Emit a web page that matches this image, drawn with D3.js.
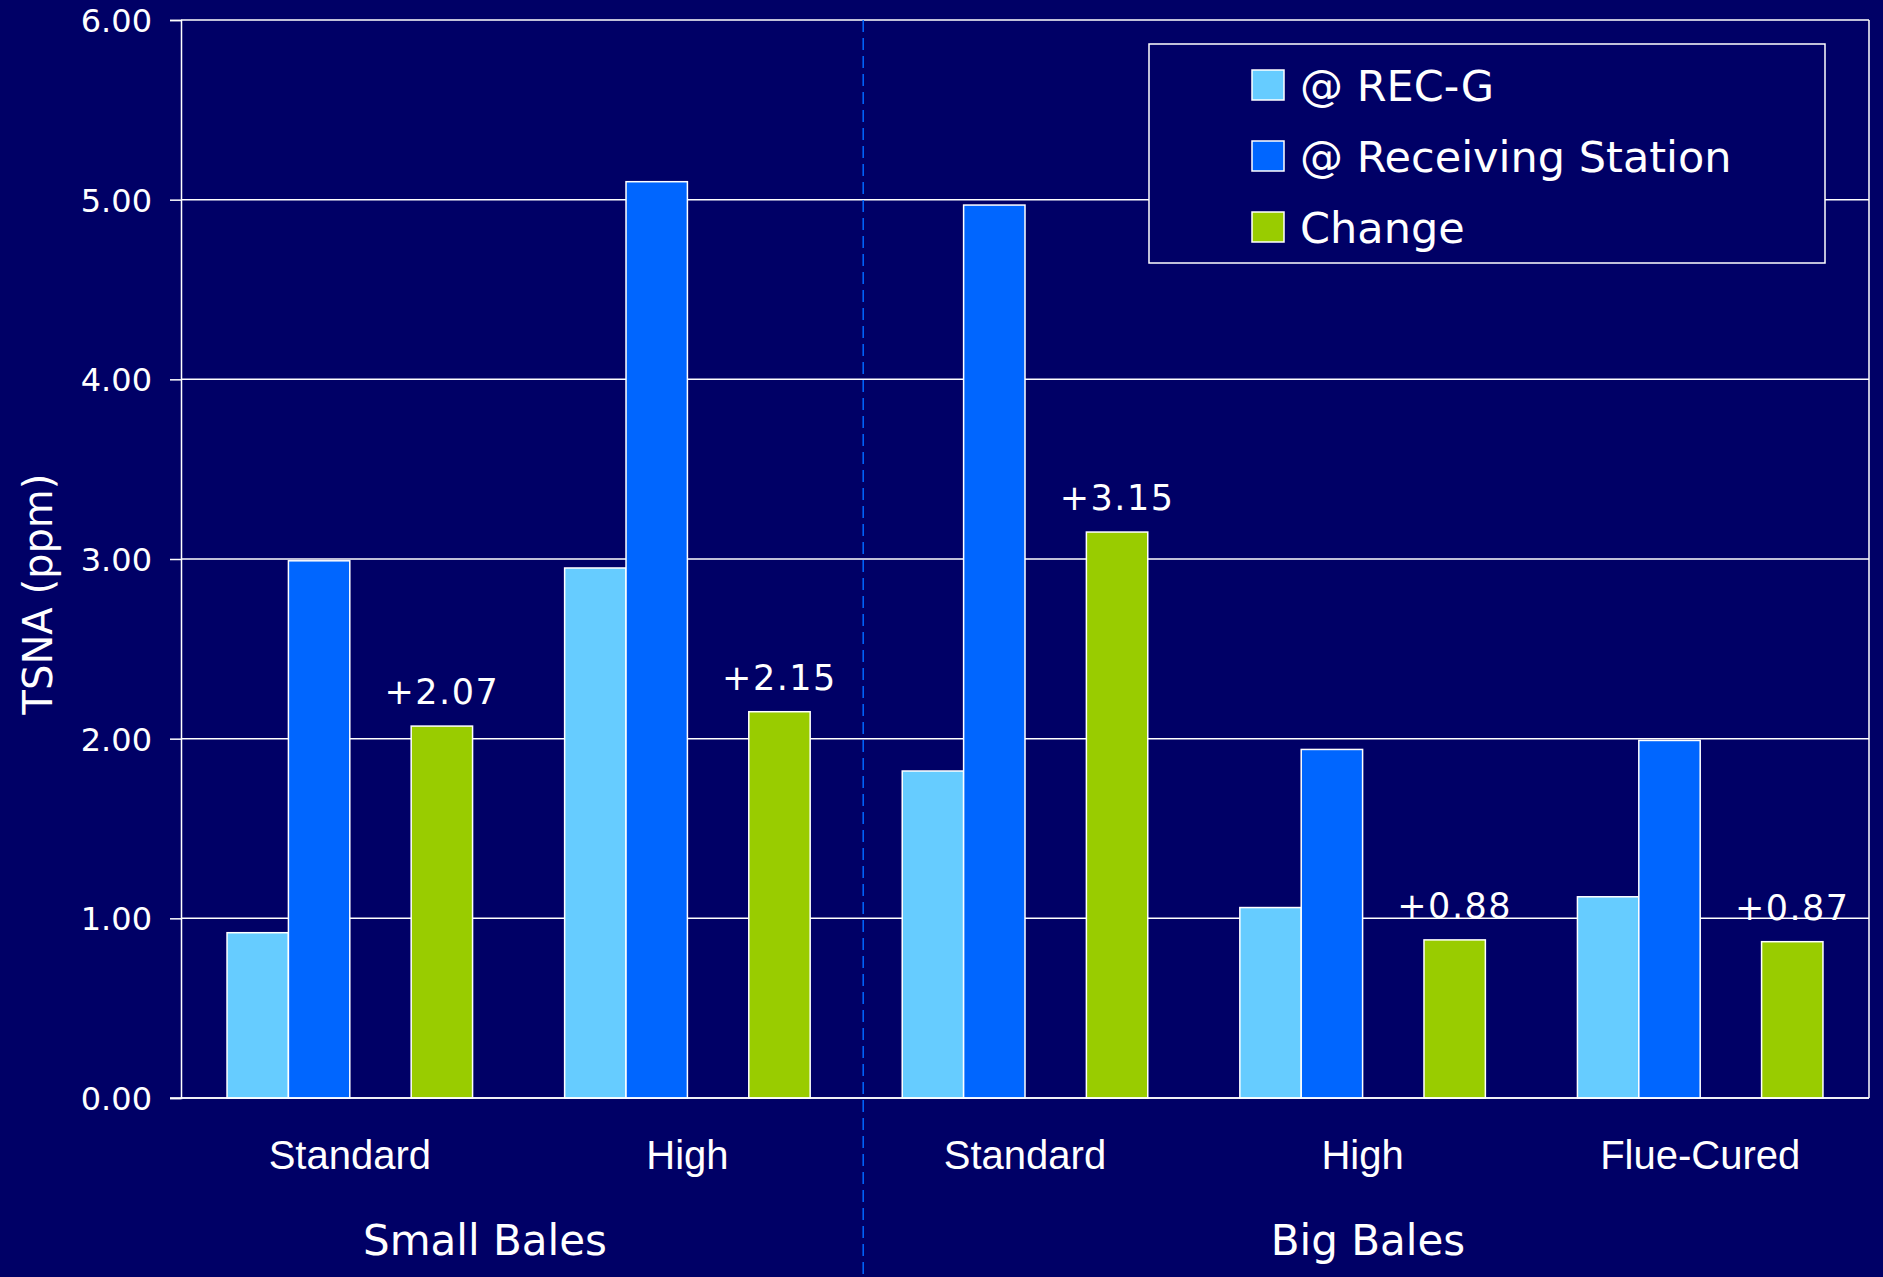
<!DOCTYPE html>
<html>
<head>
<meta charset="utf-8">
<script src="https://cdn.jsdelivr.net/npm/d3@7"></script>
<style>
  html, body { margin: 0; padding: 0; background: #000066; }
  svg { display: block; }
</style>
</head>
<body>
<svg id="chart" width="1883" height="1277"></svg>
<script>
// ---- data ----
const categories = ["Standard", "High", "Standard", "High", "Flue-Cured"];
const groupLabels = ["Small Bales", "Big Bales"];
const seriesNames = ["@ REC-G", "@ Receiving Station", "Change"];
const recG = [0.92, 2.95, 1.82, 1.06, 1.12];
const station = [2.99, 5.10, 4.97, 1.94, 1.99];
const change = [2.07, 2.15, 3.15, 0.88, 0.87];
const changeLabels = ["+2.07", "+2.15", "+3.15", "+0.88", "+0.87"];
const yTicks = [0, 1, 2, 3, 4, 5, 6];
const yTitle = "TSNA (ppm)";

// ---- styles ----
const colors = ["#66CCFF", "#0066FF", "#99CC00"];
const bg = "#000066";
const W = 1883, H = 1277;
const M = { left: 181, right: 1869, top: 20, bottom: 1098 };
const tahoma = "'DejaVu Sans', Verdana, sans-serif";
const arial = "'Liberation Sans', Arial, sans-serif";

const svg = d3.select("#chart");
svg.append("rect").attr("width", W).attr("height", H).attr("fill", bg);

const x0 = d3.scaleBand().domain(d3.range(categories.length)).range([M.left, M.right]).padding(0);
// 4 slots per category (third slot is an empty gap), gap width 150%
const x1 = d3.scaleBand().domain([0, 1, 2, 3]).range([0, x0.bandwidth()]).paddingInner(0).paddingOuter(0.75);
const slotOf = [0, 1, 3];
const y = d3.scaleLinear().domain([0, 6]).range([M.bottom, M.top]);

// gridlines
svg.append("g").selectAll("line").data(yTicks).join("line")
  .attr("x1", M.left).attr("x2", M.right)
  .attr("y1", d => y(d)).attr("y2", d => y(d))
  .attr("stroke", "#ffffff").attr("stroke-width", 1.5);

// right border
svg.append("line").attr("x1", M.right).attr("x2", M.right)
  .attr("y1", M.top).attr("y2", M.bottom)
  .attr("stroke", "#ffffff").attr("stroke-width", 1.5);

// y axis
const yAxis = svg.append("g").attr("transform", `translate(${M.left},0)`)
  .call(d3.axisLeft(y).tickValues(yTicks).tickFormat(d3.format(".2f")).tickSize(11).tickPadding(18));
yAxis.select(".domain").attr("stroke", "#ffffff").attr("stroke-width", 1.5);
yAxis.selectAll(".tick line").attr("stroke", "#ffffff").attr("stroke-width", 1.5);
yAxis.selectAll(".tick text").attr("fill", "#ffffff")
  .style("font-family", tahoma).style("font-size", "32px").attr("dy", "0.36em");

// y title
svg.append("text")
  .attr("transform", `translate(52,594) rotate(-90)`)
  .attr("text-anchor", "middle")
  .attr("fill", "#ffffff")
  .style("font-family", tahoma).style("font-size", "40px")
  .text(yTitle);

// bars
const series = [recG, station, change];
series.forEach((vals, s) => {
  svg.append("g").selectAll("rect").data(vals).join("rect")
    .attr("x", (d, i) => x0(i) + x1(slotOf[s]))
    .attr("width", x1.bandwidth())
    .attr("y", d => y(d))
    .attr("height", d => y(0) - y(d))
    .attr("fill", colors[s])
    .attr("stroke", "#ffffff").attr("stroke-width", 1.5);
});

// bottom axis line
svg.append("line").attr("x1", M.left - 11).attr("x2", M.right)
  .attr("y1", y(0)).attr("y2", y(0))
  .attr("stroke", "#ffffff").attr("stroke-width", 1.5);

// change labels
svg.append("g").selectAll("text").data(change).join("text")
  .attr("x", (d, i) => x0(i) + x1(slotOf[2]) + x1.bandwidth() / 2)
  .attr("y", d => y(d) - 22)
  .attr("text-anchor", "middle")
  .attr("fill", "#ffffff")
  .style("font-family", tahoma).style("font-size", "35px")
  .style("letter-spacing", "1.5px")
  .text((d, i) => changeLabels[i]);

// category labels
svg.append("g").selectAll("text").data(categories).join("text")
  .attr("x", (d, i) => x0(i) + x0.bandwidth() / 2)
  .attr("y", 1169)
  .attr("text-anchor", "middle")
  .attr("fill", "#ffffff")
  .style("font-family", arial).style("font-size", "40px")
  .text(d => d);

// divider between small / big bales
const divX = x0(2) + 7;
svg.append("line").attr("x1", divX).attr("x2", divX)
  .attr("y1", M.top).attr("y2", H)
  .attr("stroke", "#0066FF").attr("stroke-width", 1.5)
  .attr("stroke-dasharray", "12,6");

// group labels
const groupCenters = [485, 1368];
svg.append("g").selectAll("text").data(groupLabels).join("text")
  .attr("x", (d, i) => groupCenters[i])
  .attr("y", 1255)
  .attr("text-anchor", "middle")
  .attr("fill", "#ffffff")
  .style("font-family", tahoma).style("font-size", "42px")
  .text(d => d);

// legend
const lg = svg.append("g");
lg.append("rect").attr("x", 1149).attr("y", 44).attr("width", 676).attr("height", 219)
  .attr("fill", bg).attr("stroke", "#ffffff").attr("stroke-width", 1.5);
const rows = lg.selectAll("g.row").data(seriesNames).join("g")
  .attr("class", "row")
  .attr("transform", (d, i) => `translate(1252,${70 + i * 71})`);
rows.append("rect").attr("width", 32).attr("height", 30)
  .attr("fill", (d, i) => colors[i])
  .attr("stroke", "#ffffff").attr("stroke-width", 1.5);
rows.append("text").attr("x", 48).attr("y", 31)
  .attr("fill", "#ffffff")
  .style("font-family", tahoma).style("font-size", "43px")
  .text(d => d);
</script>
</body>
</html>
